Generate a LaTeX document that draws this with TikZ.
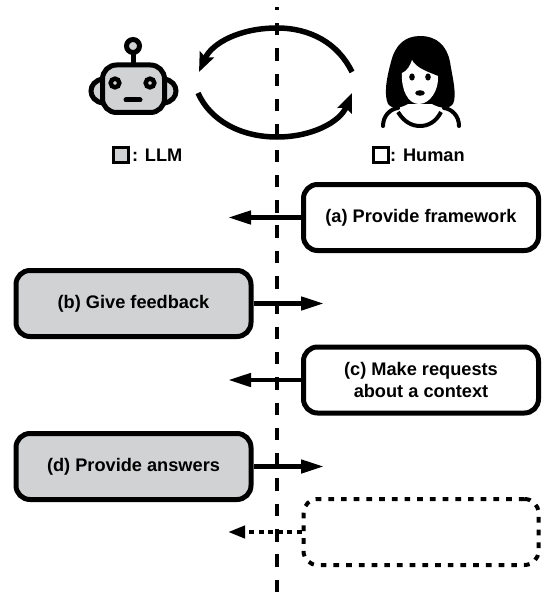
\documentclass[tikz,border=0pt]{standalone}
\usepackage{fontspec}
\setmainfont{Liberation Sans}
\usetikzlibrary{arrows.meta}
\definecolor{fillgray}{HTML}{D1D2D4}
\tikzset{
  x=1pt,y=-1pt,
  box/.style={draw=black,line width=5pt,rounded corners=14pt,minimum width=235pt,minimum height=66pt,align=center,font=\fontsize{18.2}{22}\selectfont\bfseries,inner sep=0pt},
  llmbox/.style={box,fill=fillgray},
  humanbox/.style={box,fill=white},
  emptybox/.style={box,line width=4pt,dash pattern=on 5.7pt off 7pt},
  conn/.style={line width=4.5pt,-{Triangle[length=23pt,width=13pt]}},
  dotconn/.style={line width=4pt,dash pattern=on 5pt off 4.5pt,-{Triangle[length=17pt,width=12pt]}},
  cycle arrow/.style={line width=5.5pt,line cap=butt},
  legend/.style={font=\fontsize{18.2}{20}\selectfont\bfseries,inner sep=0pt,anchor=west},
  swatch/.style={draw=black,line width=3.4pt,minimum size=15pt,inner sep=0pt},
}
\begin{document}
\begin{tikzpicture}
\useasboundingbox (0,0) rectangle (550,607);
% separator
\coordinate (sepTop) at (277,7);
\coordinate (sepBot) at (277,597);
\draw[line width=4.8pt,dash pattern=on 12.5pt off 12.8pt,dash phase=9.3pt] (sepTop) -- (sepBot);
% cycle
\draw[cycle arrow,-{Stealth[length=19pt,width=15pt,inset=3pt]}] (352,72) .. controls (338,43) and (310,28) .. (277,28) .. controls (240,28) and (212,43) .. (199,72);
\draw[cycle arrow,-{Stealth[length=19pt,width=15pt,inset=3pt]}] (198,93) .. controls (210,120) and (240,137) .. (277,137) .. controls (312,137) and (340,122) .. (352,93);
% robot
\begin{scope}[line width=5pt]
\draw[fill=fillgray] (133,46) circle (6.5);
\draw (133,53) -- (133,64);
\draw[fill=fillgray] (103,79) .. controls (87,81) and (87,101) .. (103,103);
\draw[fill=fillgray] (164,79) .. controls (180,81) and (180,101) .. (164,103);
\draw[fill=fillgray,rounded corners=14pt] (102.5,65) rectangle (164.5,112.5);
\draw[fill=fillgray,line width=4.5pt] (115,83) circle (4.3);
\draw[fill=fillgray,line width=4.5pt] (150,83) circle (4.3);
\draw[line width=5pt,line cap=round] (126,100) -- (140,100);
\end{scope}
% human
\fill (388,104) .. controls (384,95) and (386,80) .. (391,62) .. controls (395,45) and (405,36) .. (420,36) .. controls (437,36) and (447,46) .. (450,62) .. controls (453,80) and (457,95) .. (453,104) .. controls (448,110) and (440,108) .. (432,104) -- (408,104) .. controls (400,108) and (393,110) .. (388,104) -- cycle;
\fill[white] (412,60) .. controls (416,68) and (428,72) .. (438,76) .. controls (439,90) and (430,104) .. (419,104) .. controls (408,104) and (401,90) .. (402,73) .. controls (407,71) and (410,66) .. (412,60) -- cycle;
\fill (412,77) ellipse (2.8 and 3.6);
\fill (428,77) ellipse (2.8 and 3.6);
\fill (420,93) ellipse (4.8 and 2.8);
\draw[line width=4pt,line cap=round] (383,126) .. controls (383,116) and (390,109) .. (398,108);
\draw[line width=4pt,line cap=round] (459,126) .. controls (459,116) and (452,109) .. (444,108);
\draw[line width=4pt] (398,112) .. controls (404,122) and (412,126) .. (420,126) .. controls (428,126) and (436,122) .. (441,112);
% legend
\node[swatch,fill=fillgray] (llmSwatch) at (121,155) {};
\node[legend] (llmText) at (132,155) {: LLM};
\node[swatch,fill=white] (humanSwatch) at (381,155) {};
\node[legend] (humanText) at (390,155) {: Human};
% boxes
\node[humanbox] (a) at (421,217.5) {(a) Provide framework};
\node[llmbox] (b) at (133.5,303.5) {(b) Give feedback};
\node[humanbox] (c) at (421,380) {(c) Make requests\\about a context};
\node[llmbox] (d) at (133.5,466.5) {(d) Provide answers};
\node[emptybox] (e) at (421,532) {};
% connectors
\coordinate (aEnd) at (228,217.5);
\coordinate (bEnd) at (324,303.5);
\coordinate (cEnd) at (228,380);
\coordinate (dEnd) at (324,466.5);
\coordinate (eEnd) at (228,532);
\draw[conn] (a.west) -- (aEnd);
\draw[conn] (b.east) -- (bEnd);
\draw[conn] (c.west) -- (cEnd);
\draw[conn] (d.east) -- (dEnd);
\draw[dotconn] (e.west) -- (eEnd);
\end{tikzpicture}
\end{document}
